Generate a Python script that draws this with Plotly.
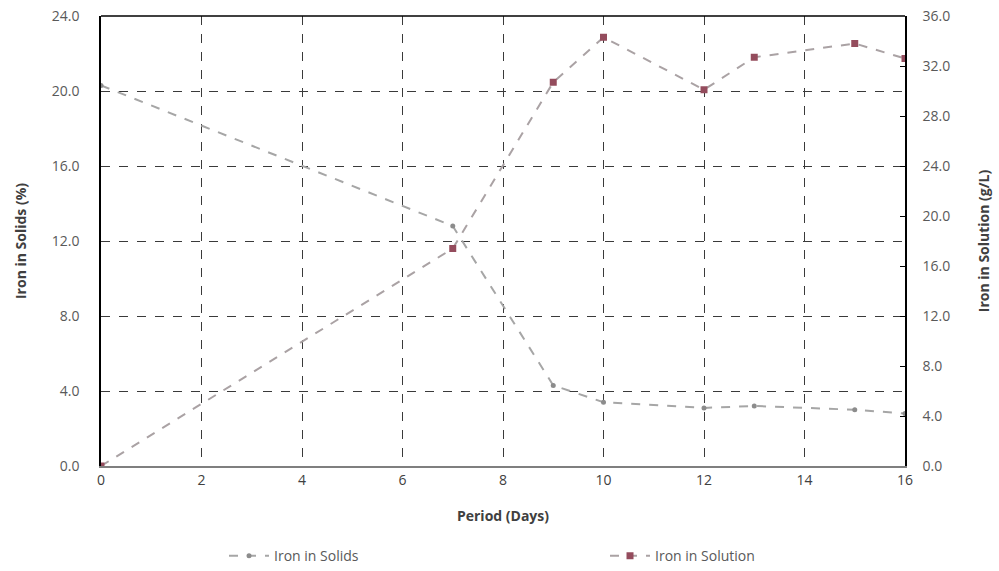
import plotly.graph_objects as go

# Leaching trial: iron remaining in solids vs. iron dissolved in solution
days = [0, 7, 9, 10, 12, 13, 15, 16]
iron_solids_pct = [20.3, 12.8, 4.3, 3.4, 3.1, 3.2, 3.0, 2.8]
iron_solution_gpl = [0.0, 17.4, 30.7, 34.3, 30.1, 32.7, 33.8, 32.6]

left_ticks = [0, 4, 8, 12, 16, 20, 24]
right_ticks = [0, 4, 8, 12, 16, 20, 24, 28, 32, 36]
x_ticks = [0, 2, 4, 6, 8, 10, 12, 14, 16]

FONT = "Open Sans"
TICK_COLOR = "#595959"
GRID = "#3a3a3a"

fig = go.Figure()

fig.add_trace(go.Scatter(
    x=days, y=iron_solids_pct, name="Iron in Solids",
    mode="lines+markers",
    line=dict(color="#a6a6a6", width=2, dash="dash"),
    marker=dict(symbol="circle", size=5, color="#8c8c8c"),
    yaxis="y",
))

fig.add_trace(go.Scatter(
    x=days, y=iron_solution_gpl, name="Iron in Solution",
    mode="lines+markers",
    line=dict(color="#aaa2a4", width=2, dash="dash"),
    marker=dict(symbol="square", size=7, color="#944c5d"),
    yaxis="y2",
))

fig.update_layout(
    width=999, height=571,
    margin=dict(l=101, r=94, t=16, b=105, autoexpand=False),
    paper_bgcolor="white", plot_bgcolor="white",
    font=dict(family=FONT, size=14, color=TICK_COLOR),
    showlegend=True,
    legend=dict(
        orientation="h", x=0.153, xanchor="left", y=-0.165, yanchor="top",
        entrywidth=326, entrywidthmode="pixels",
        font=dict(family=FONT, size=14, color=TICK_COLOR),
        itemwidth=40,
    ),
    xaxis=dict(
        range=[0, 16], tickvals=x_ticks, ticktext=[str(v) for v in x_ticks],
        showgrid=True, gridcolor=GRID, griddash="dash", gridwidth=1,
        showline=True, linecolor="#7f7f7f", linewidth=1.5, mirror=False,
        zeroline=False, ticks="", ticklabelstandoff=0,
        tickfont=dict(family=FONT, size=14, color="#404040"),
        title=dict(text="<b>Period (Days)</b>", standoff=24,
                   font=dict(family=FONT, size=14, color="#404040")),
    ),
    yaxis=dict(
        range=[0, 24], tickvals=left_ticks,
        ticktext=[f"{v:.1f}" for v in left_ticks],
        showgrid=True, gridcolor=GRID, griddash="dash", gridwidth=1,
        showline=True, linecolor="#000000", linewidth=1.5,
        zeroline=False, ticks="", ticklabelstandoff=17,
        tickfont=dict(family=FONT, size=14, color=TICK_COLOR),
        title=dict(text="<b>Iron in Solids (%)</b>", standoff=22,
                   font=dict(family=FONT, size=14, color="#404040")),
    ),
    yaxis2=dict(
        range=[0, 36], tickvals=right_ticks,
        ticktext=[f"{v:.1f}" for v in right_ticks],
        overlaying="y", side="right",
        showgrid=False, zeroline=False,
        showline=True, linecolor="#000000", linewidth=1.5,
        ticks="inside", ticklen=5, tickcolor="#000000", ticklabelstandoff=13,
        tickfont=dict(family=FONT, size=14, color=TICK_COLOR),
        title=dict(text="<b>Iron in Solution (g/L)</b>", standoff=30,
                   font=dict(family=FONT, size=14, color="#404040")),
    ),
)

# top border of the plotting area
fig.add_shape(type="line", xref="paper", yref="paper", x0=0, x1=1, y0=1, y1=1,
              line=dict(color="#000000", width=1.5))

fig.write_html("out.html")
